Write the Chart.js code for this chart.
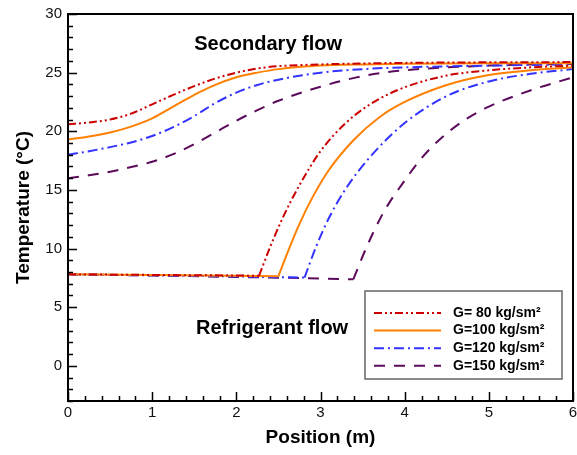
<!DOCTYPE html>
<html>
<head>
<meta charset="utf-8">
<script src="https://cdn.jsdelivr.net/npm/chart.js@4.4.1/dist/chart.umd.min.js"></script>
<style>
  html, body { margin: 0; padding: 0; background: #fff; }
</style>
</head>
<body>
<canvas id="graficaTemp" width="577" height="455"></canvas>
<script>
// series labels
const seriesLabels = ['G= 80 kg/sm\u00b2', 'G=100 kg/sm\u00b2', 'G=120 kg/sm\u00b2', 'G=150 kg/sm\u00b2'];

// secondary flow (upper curves), shared positions
const secPosition = [0, 0.25, 0.5, 0.75, 1, 1.25, 1.5, 1.75, 2, 2.25, 2.5, 3, 3.5, 4, 5, 6];
const sec80  = [20.6, 20.75, 21.0, 21.5, 22.3, 23.1, 23.85, 24.5, 25.0, 25.35, 25.55, 25.7, 25.78, 25.83, 25.88, 25.9];
const sec100 = [19.3, 19.55, 19.9, 20.4, 21.1, 22.1, 23.1, 23.95, 24.6, 25.0, 25.3, 25.6, 25.7, 25.75, 25.8, 25.8];
const sec120 = [18.0, 18.3, 18.65, 19.05, 19.6, 20.35, 21.3, 22.4, 23.3, 23.95, 24.4, 25.0, 25.3, 25.45, 25.6, 25.7];
const sec150 = [16.0, 16.25, 16.55, 16.95, 17.4, 18.05, 18.9, 19.9, 20.9, 21.8, 22.6, 23.8, 24.7, 25.2, 25.6, 25.75];

// refrigerant flow (lower curves)
const ref80Position  = [0, 1, 2, 2.27, 2.4, 2.55, 2.75, 3.0, 3.3, 3.6, 4.0, 4.5, 5.0, 5.5, 6.0];
const ref80          = [7.8, 7.75, 7.7, 7.68, 10.1, 12.6, 15.4, 18.3, 20.7, 22.35, 23.75, 24.75, 25.2, 25.45, 25.6];
const ref100Position = [0, 1, 2, 2.5, 2.6, 2.75, 2.9, 3.1, 3.4, 3.7, 4.0, 4.5, 5.0, 5.5, 6.0];
const ref100         = [7.8, 7.74, 7.68, 7.63, 9.5, 12.1, 14.3, 16.7, 19.3, 21.2, 22.5, 23.95, 24.8, 25.2, 25.45];
const ref120Position = [0, 1, 2, 2.81, 2.95, 3.1, 3.3, 3.6, 4.0, 4.5, 5.0, 5.5, 6.0];
const ref120         = [7.8, 7.72, 7.62, 7.52, 10.2, 12.6, 15.1, 17.9, 20.7, 23.0, 24.25, 24.9, 25.3];
const ref150Position = [0, 1, 2, 3, 3.39, 3.54, 3.75, 4.0, 4.2, 4.4, 4.7, 5.0, 5.5, 6.0];
const ref150         = [7.8, 7.7, 7.58, 7.45, 7.38, 10.0, 13.1, 15.8, 17.7, 19.2, 20.9, 22.1, 23.5, 24.6];

// ticks
const xTickValues = [0, 1, 2, 3, 4, 5, 6];
const yTickValues = [0, 5, 10, 15, 20, 25, 30];

const colores = ['#cc0000', '#ff8000', '#3333ff', '#5c0b5c'];
const trazos = [[8, 3, 2, 3, 2, 3], [], [10, 4, 2, 4], [11, 9]];

const FONT = "'Liberation Sans', Arial, sans-serif";

function puntos(xs, ys) {
  return xs.map((x, i) => ({ x: x, y: ys[i] }));
}

const secData = [sec80, sec100, sec120, sec150];
const refData = [[ref80Position, ref80], [ref100Position, ref100], [ref120Position, ref120], [ref150Position, ref150]];

const datasets = [];
seriesLabels.forEach((label, i) => {
  const estilo = {
    borderColor: colores[i],
    borderDash: trazos[i],
    borderWidth: 2,
    pointRadius: 0,
    fill: false
  };
  datasets.push(Object.assign({
    label: label,
    data: puntos(secPosition, secData[i]),
    cubicInterpolationMode: 'monotone'
  }, estilo));

  // refrigerant: flat part then rise, split at the lowest point (the corner)
  const xs = refData[i][0], ys = refData[i][1];
  let k = 0;
  ys.forEach((v, j) => { if (v <= ys[k]) k = j; });
  datasets.push(Object.assign({
    label: label + ' ref-flat',
    data: puntos(xs.slice(0, k + 1), ys.slice(0, k + 1)),
    tension: 0
  }, estilo));
  datasets.push(Object.assign({
    label: label + ' ref-rise',
    data: puntos(xs.slice(k), ys.slice(k)),
    cubicInterpolationMode: 'monotone'
  }, estilo));
});

// frame, inward ticks, annotations and legend box
const marcoPlugin = {
  id: 'marco',
  afterDatasetsDraw(chart) {
    const c = chart.ctx;
    const a = chart.chartArea;
    const sx = chart.scales.x, sy = chart.scales.y;
    c.save();
    c.strokeStyle = '#000';
    c.lineWidth = 1.5;
    // x ticks
    for (let v = 0; v <= 6.0001; v += 0.2) {
      const px = Math.round(sx.getPixelForValue(v)) + 0.5;
      const major = Math.abs(v - Math.round(v)) < 0.01;
      c.beginPath();
      c.moveTo(px, a.bottom);
      c.lineTo(px, a.bottom - (major ? 9 : 5));
      c.stroke();
    }
    // y ticks
    for (let v = -3; v <= 30; v += 1) {
      const py = Math.round(sy.getPixelForValue(v)) + 0.5;
      const major = v % 5 === 0;
      c.beginPath();
      c.moveTo(a.left, py);
      c.lineTo(a.left + (major ? 9 : 5), py);
      c.stroke();
    }
    // frame
    c.lineWidth = 2;
    c.strokeRect(a.left, a.top, a.right - a.left, a.bottom - a.top);

    // annotations
    c.fillStyle = '#000';
    c.font = 'bold 20px ' + FONT;
    c.textAlign = 'left';
    c.textBaseline = 'middle';
    c.fillText('Secondary flow', sx.getPixelForValue(1.5), sy.getPixelForValue(27.4));
    c.fillText('Refrigerant flow', sx.getPixelForValue(1.52), sy.getPixelForValue(3.2));

    // legend
    const bx = a.right - 208, by = a.bottom - 110, bw = 197, bh = 88;
    c.fillStyle = '#fff';
    c.fillRect(bx, by, bw, bh);
    c.strokeStyle = '#666';
    c.lineWidth = 1.5;
    c.strokeRect(bx, by, bw, bh);
    c.font = 'bold 14px ' + FONT;
    seriesLabels.forEach((label, i) => {
      const ry = by + 22 + i * 17.6;
      c.strokeStyle = colores[i];
      c.lineWidth = 2;
      c.setLineDash(trazos[i]);
      c.beginPath();
      c.moveTo(bx + 9, ry);
      c.lineTo(bx + 76, ry);
      c.stroke();
      c.setLineDash([]);
      c.fillStyle = '#000';
      c.fillText(label, bx + 88, ry);
    });
    c.restore();
  }
};

const ctx = document.getElementById('graficaTemp').getContext('2d');
const grafica = new Chart(ctx, {
  type: 'line',
  data: { datasets: datasets },
  options: {
    responsive: false,
    animation: false,
    devicePixelRatio: 1,
    layout: { padding: { top: 14, right: 4, left: 0, bottom: 0 } },
    plugins: {
      legend: { display: false },
      tooltip: { enabled: false }
    },
    scales: {
      x: {
        type: 'linear',
        min: 0,
        max: 6,
        afterBuildTicks: s => { s.ticks = xTickValues.map(v => ({ value: v })); },
        afterFit: s => { s.height = 54; s.paddingLeft = 0; s.paddingRight = 0; },
        grid: { display: false, drawTicks: false },
        border: { display: false },
        ticks: {
          padding: 3,
          color: '#111',
          font: { family: FONT, size: 15 }
        },
        title: {
          display: true,
          text: 'Position (m)',
          color: '#000',
          padding: { top: 0, bottom: 6 },
          font: { family: FONT, size: 19, weight: 'bold' }
        }
      },
      y: {
        type: 'linear',
        min: -3,
        max: 30,
        afterBuildTicks: s => { s.ticks = yTickValues.map(v => ({ value: v })); },
        afterFit: s => { s.width = 68; s.paddingTop = 0; s.paddingBottom = 0; },
        grid: { display: false, drawTicks: false },
        border: { display: false },
        ticks: {
          padding: 6,
          color: '#111',
          font: { family: FONT, size: 15 }
        },
        title: {
          display: true,
          text: 'Temperature (\u00b0C)',
          color: '#000',
          padding: { top: 12, bottom: 0 },
          font: { family: FONT, size: 19, weight: 'bold' }
        }
      }
    }
  },
  plugins: [marcoPlugin]
});
</script>
</body>
</html>
